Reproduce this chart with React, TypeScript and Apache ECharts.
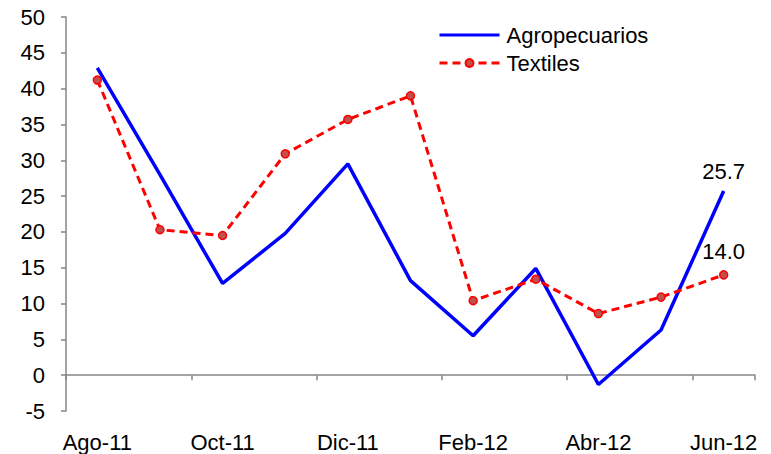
import React, { useEffect, useRef } from "react";
import * as echarts from "echarts";

const categories = ["Ago-11", "Sep-11", "Oct-11", "Nov-11", "Dic-11", "Ene-12", "Feb-12", "Mar-12", "Abr-12", "May-12", "Jun-12"];
const agropecuarios = [42.9, 28.0, 12.8, 19.8, 29.5, 13.2, 5.5, 14.9, -1.3, 6.3, 25.7];
const textiles = [41.2, 20.3, 19.5, 30.9, 35.7, 39.0, 10.4, 13.4, 8.6, 10.9, 14.0];
const seriesNames = ["Agropecuarios", "Textiles"];

const FONT = "Liberation Sans, Arial, sans-serif";

export default function App() {
  const ref = useRef<HTMLDivElement>(null);
  useEffect(() => {
    document.body.style.margin = "0";
    const chart = echarts.init(ref.current!, null, { renderer: "svg" });
    const lastIdx = categories.length - 1;
    const lastOnly = (arr: number[]) => arr.map((v, i) => (i === lastIdx ? v : null));
    const labelStyle = { fontSize: 22, color: "#000", fontFamily: FONT };
    chart.setOption({
      animation: false,
      backgroundColor: "#ffffff",
      textStyle: { fontFamily: FONT },
      grid: { left: 66, right: 16, top: 17, bottom: 43, containLabel: false },
      legend: {
        orient: "vertical",
        left: 433,
        top: 19,
        itemWidth: 60,
        itemHeight: 10,
        itemGap: 6,
        textStyle: { fontSize: 22, color: "#000", fontFamily: FONT, padding: [0, 0, 0, 2] },
        data: [
          { name: seriesNames[0], itemStyle: { opacity: 0 }, lineStyle: { width: 3 } },
          { name: seriesNames[1], lineStyle: { width: 3 } },
        ],
      },
      xAxis: [
        {
          type: "category",
          data: categories,
          boundaryGap: true,
          axisLine: { onZero: true, lineStyle: { color: "#868686", width: 1.5 } },
          axisTick: { show: true, interval: 1, length: 5, lineStyle: { color: "#868686", width: 1.5 } },
          axisLabel: { show: false },
          splitLine: { show: false },
        },
        {
          type: "category",
          data: categories,
          boundaryGap: true,
          position: "bottom",
          axisLine: { show: false, onZero: false },
          axisTick: { show: false },
          axisLabel: { interval: 1, margin: 20, ...labelStyle },
          splitLine: { show: false },
        },
      ],
      yAxis: {
        type: "value",
        min: -5,
        max: 50,
        interval: 5,
        axisLine: { show: true, lineStyle: { color: "#868686", width: 1.5 } },
        axisTick: { show: true, length: 5, lineStyle: { color: "#868686", width: 1.5 } },
        axisLabel: { margin: 21, ...labelStyle },
        splitLine: { show: false },
      },
      series: [
        {
          name: seriesNames[0],
          type: "line",
          data: agropecuarios,
          xAxisIndex: 0,
          symbol: "none",
          color: "#0000ff",
          lineStyle: { color: "#0000ff", width: 3.5 },
          z: 2,
        },
        {
          name: seriesNames[1],
          type: "line",
          data: textiles,
          xAxisIndex: 0,
          symbol: "circle",
          symbolSize: 8,
          color: "#ff0000",
          itemStyle: { color: "#c0504d", borderColor: "#ff0000", borderWidth: 1.5 },
          lineStyle: { color: "#ff0000", width: 3, type: [8, 5] },
          z: 3,
        },
        {
          name: "lblAgro",
          type: "scatter",
          data: lastOnly(agropecuarios),
          symbolSize: 0,
          silent: true,
          itemStyle: { opacity: 1 },
          label: {
            show: true,
            position: "top",
            distance: 9,
            formatter: (p: any) => Number(p.value).toFixed(1),
            ...labelStyle,
          },
          z: 4,
        },
        {
          name: "lblTex",
          type: "scatter",
          data: lastOnly(textiles),
          symbolSize: 0,
          silent: true,
          itemStyle: { opacity: 1 },
          label: {
            show: true,
            position: "top",
            distance: 12,
            formatter: (p: any) => Number(p.value).toFixed(1),
            ...labelStyle,
          },
          z: 4,
        },
      ],
    });
    return () => chart.dispose();
  }, []);
  return <div ref={ref} style={{ width: 771, height: 454 }} />;
}
